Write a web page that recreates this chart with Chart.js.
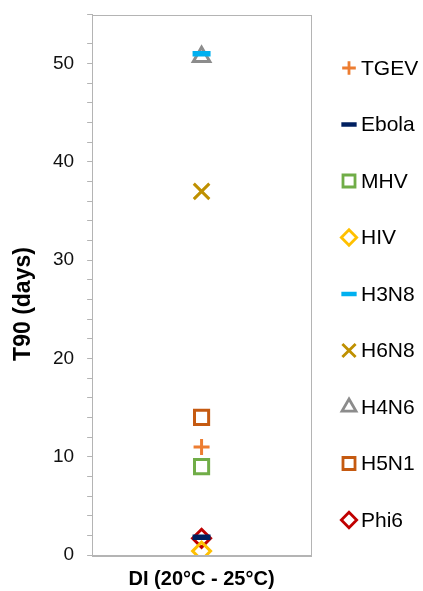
<!DOCTYPE html>
<html>
<head>
<meta charset="utf-8">
<script src="https://cdn.jsdelivr.net/npm/chart.js@4/dist/chart.umd.min.js"></script>
<style>
  html, body { margin: 0; padding: 0; background: #fff; }
  #wrap { width: 423px; height: 591px; }
</style>
</head>
<body>
<div id="wrap"><canvas id="t90Chart" width="423" height="591"></canvas></div>
<script>
// T90 survival times (days) at room temperature in deionized water
const categories = ['DI (20°C - 25°C)'];
const seriesNames = ['TGEV', 'Ebola', 'MHV', 'HIV', 'H3N8', 'H6N8', 'H4N6', 'H5N1', 'Phi6'];
const seriesValues = [11, 1.8, 9, 0.4, 51, 37, 50.7, 14, 1.7];
const yTicksMajor = [0, 10, 20, 30, 40, 50];
const yTitle = 'T90 (days)';

const FONT = '"Liberation Sans", Arial, sans-serif';

const markers = {
    TGEV: { style: 'cross', color: '#ED7D31', radius: 8, width: 3 },
    Ebola: { style: 'line', color: '#002060', radius: 9, width: 5.5 },
    MHV: { style: 'rect', color: '#70AD47', radius: 10, width: 3 },
    HIV: { style: 'rectRot', color: '#FFC000', radius: 9, width: 3 },
    H3N8: { style: 'line', color: '#00B0F0', radius: 9, width: 5.5 },
    H6N8: { style: 'crossRot', color: '#BF9000', radius: 11, width: 3 },
    H4N6: { style: 'triangle', color: '#8C8C8C', radius: 9.5, width: 3 },
    H5N1: { style: 'rect', color: '#C55A11', radius: 10, width: 3 },
    Phi6: { style: 'rectRot', color: '#C00000', radius: 9, width: 3 }
};

const datasets = seriesNames.map((name, i) => ({
    label: name,
    data: [seriesValues[i]],
    showLine: false,
    pointStyle: markers[name].style,
    pointRadius: markers[name].radius,
    pointHoverRadius: markers[name].radius,
    pointBorderWidth: markers[name].width,
    pointBorderColor: markers[name].color,
    pointBackgroundColor: 'rgba(0,0,0,0)',
    borderColor: markers[name].color
}));

// box around the plot area (top and right edges too)
const frame = {
    id: 'frame',
    afterDatasetsDraw(chart) {
        const { ctx, chartArea: a } = chart;
        ctx.save();
        ctx.strokeStyle = '#B4B4B4';
        ctx.lineWidth = 1;
        ctx.strokeRect(Math.round(a.left) + 0.5, Math.round(a.top) + 0.5,
            Math.round(a.right - a.left), Math.round(a.bottom - a.top));
        ctx.restore();
    }
};

// rotated y axis title, sits a bit below the middle of the axis
const axisTitle = {
    id: 'axisTitle',
    afterDraw(chart) {
        const ctx = chart.ctx;
        ctx.save();
        ctx.translate(24, 304);
        ctx.rotate(-Math.PI / 2);
        ctx.fillStyle = '#000';
        ctx.font = 'bold 23px ' + FONT;
        ctx.textAlign = 'center';
        ctx.textBaseline = 'middle';
        ctx.fillText(yTitle, 0, 0);
        ctx.restore();
    }
};

// legend down the right side
const sideLegend = {
    id: 'sideLegend',
    afterDraw(chart) {
        const ctx = chart.ctx;
        const x = 349, y0 = 68, step = 56.5;
        ctx.save();
        chart.data.datasets.forEach((ds, i) => {
            const y = y0 + i * step;
            const m = markers[ds.label];
            ctx.strokeStyle = m.color;
            ctx.fillStyle = 'rgba(0,0,0,0)';
            ctx.lineWidth = m.style === 'line' ? 4.5 : 2.8;
            Chart.helpers.drawPoint(ctx, {
                pointStyle: m.style,
                rotation: 0,
                radius: m.radius * 0.85,
                borderWidth: ctx.lineWidth
            }, x, y);
            ctx.fillStyle = '#000';
            ctx.font = '21px ' + FONT;
            ctx.textAlign = 'left';
            ctx.textBaseline = 'middle';
            ctx.fillText(ds.label, 361, y + 1);
        });
        ctx.restore();
    }
};

new Chart(document.getElementById('t90Chart'), {
    type: 'line',
    data: { labels: categories, datasets: datasets },
    plugins: [frame, axisTitle, sideLegend],
    options: {
        responsive: false,
        animation: false,
        layout: { padding: { left: 40, right: 112, top: 8, bottom: -12 } },
        plugins: {
            legend: { display: false },
            tooltip: { enabled: false }
        },
        scales: {
            x: {
                offset: true,
                grid: { display: false, drawTicks: false },
                border: { display: true, color: '#B4B4B4' },
                ticks: {
                    color: '#000',
                    padding: 12,
                    font: { family: FONT, size: 20, weight: 'bold' }
                }
            },
            y: {
                min: 0,
                max: 55,
                border: { display: true, color: '#B4B4B4' },
                grid: {
                    drawOnChartArea: false,
                    drawTicks: true,
                    tickLength: 5,
                    color: '#B4B4B4'
                },
                ticks: {
                    stepSize: 2,
                    autoSkip: false,
                    padding: 13,
                    color: '#111',
                    font: { family: FONT, size: 19 },
                    callback: (v) => yTicksMajor.includes(v) ? String(v) : ''
                },
                // no extra room above/below the plot for the end labels
                afterFit: (scale) => {
                    scale.paddingTop = 0;
                    scale.paddingBottom = 0;
                }
            }
        }
    }
});
</script>
</body>
</html>
